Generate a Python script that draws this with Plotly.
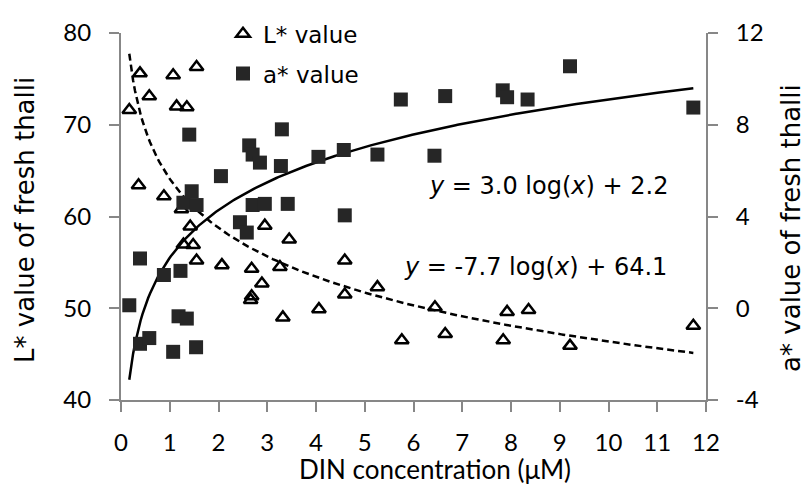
import numpy as np
import plotly.graph_objects as go

# DIN concentration (µM) and L* values (open triangles, left axis)
l_x = [0.17, 0.36, 0.39, 0.58, 0.88, 1.07, 1.14, 1.24, 1.28, 1.35, 1.42, 1.48, 1.55, 1.55,
       2.07, 2.66, 2.68, 2.68, 2.89, 2.95, 3.26, 3.32, 3.45, 4.06, 4.59, 4.59, 5.26, 5.76,
       6.44, 6.65, 7.84, 7.92, 8.36, 9.21, 11.74]
l_val = [71.6, 63.4, 75.6, 73.1, 62.2, 75.4, 72.0, 60.8, 56.95, 71.9, 58.9, 56.9, 76.3, 55.2,
         54.7, 50.9, 54.3, 51.3, 52.7, 59.0, 54.5, 49.0, 57.5, 49.9, 55.2, 51.5, 52.3, 46.5,
         50.1, 47.2, 46.5, 49.6, 49.8, 45.9, 48.1]

# DIN concentration (µM) and a* values (filled squares, right axis)
a_x = [0.17, 0.39, 0.39, 0.58, 0.88, 1.07, 1.18, 1.22, 1.28, 1.35, 1.40, 1.45, 1.54, 1.55,
       2.05, 2.44, 2.58, 2.63, 2.70, 2.70, 2.85, 2.95, 3.28, 3.30, 3.42, 4.05, 4.57, 4.59,
       5.26, 5.74, 6.43, 6.65, 7.83, 7.92, 8.34, 9.21, 11.74]
a_val = [0.13, 2.17, -1.55, -1.3, 1.45, -1.9, -0.35, 1.63, 4.6, -0.45, 7.57, 5.1, -1.7, 4.5,
         5.76, 3.75, 3.3, 7.1, 6.7, 4.5, 6.35, 4.55, 6.2, 7.8, 4.55, 6.6, 6.9, 4.05,
         6.7, 9.1, 6.65, 9.25, 9.5, 9.2, 9.1, 10.55, 8.75]

# Logarithmic trendline coefficients (slope, intercept) shown on the chart
l_fit = [-7.7, 64.1]
a_fit = [3.0, 2.2]

x_ticks = list(range(0, 13))
l_ticks = [40, 50, 60, 70, 80]
a_ticks = [-4, 0, 4, 8, 12]
a_tick_labels = ["-4", "0", "4", "8", "12"]

AXIS = "#878787"
NARROW = "Lato, Carlito, sans-serif"
WIDE = "DejaVu Sans, Verdana, sans-serif"
TICKFONT = dict(family=NARROW, size=24, color="#000000")

W, H = 806, 488
L, R, T, B = 121, 100, 29, 88
pw, ph = W - L - R, H - T - B


def px_x(p):
    return (p - L) / pw


def px_y(p):
    return 1 - (p - T) / ph


fx = np.linspace(min(l_x), max(l_x), 300)

fig = go.Figure()
fig.add_trace(go.Scatter(x=fx, y=l_fit[0] * np.log(fx) + l_fit[1], mode="lines",
                         line=dict(color="black", width=2.5, dash="7px,4px"),
                         showlegend=False, hoverinfo="skip"))
fig.add_trace(go.Scatter(x=fx, y=a_fit[0] * np.log(fx) + a_fit[1], mode="lines",
                         line=dict(color="black", width=2.5),
                         showlegend=False, hoverinfo="skip", yaxis="y2"))
fig.add_trace(go.Scatter(x=l_x, y=l_val, mode="markers", name="L* value",
                         legendgroup="L",
                         marker=dict(symbol="triangle-up-open", size=12,
                                     color="black", line=dict(color="black", width=2.5))))
fig.add_trace(go.Scatter(x=a_x, y=a_val, mode="markers", name="a* value",
                         legendgroup="a", yaxis="y2",
                         marker=dict(symbol="square", size=14, color="#262626",
                                     line=dict(width=0))))

ann_common = dict(xref="paper", yref="paper", showarrow=False,
                  xanchor="center", yanchor="middle")
fig.add_annotation(x=px_x(548), y=px_y(184), text="<i>y</i> = 3.0 log(<i>x</i>) + 2.2",
                   font=dict(family=WIDE, size=24, color="black"), **ann_common)
fig.add_annotation(x=px_x(535), y=px_y(266), text="<i>y</i> = -7.7 log(<i>x</i>) + 64.1",
                   font=dict(family=WIDE, size=24, color="black"), **ann_common)
# axis titles
fig.add_annotation(x=px_x(435), y=px_y(470), text="DIN concentration (μM)",
                   font=dict(family=NARROW, size=26, color="black"), **ann_common)
fig.add_annotation(x=px_x(25), y=px_y(218), text="L* value of fresh thalli", textangle=-90,
                   font=dict(family=WIDE, size=26, color="black"), **ann_common)
fig.add_annotation(x=px_x(791), y=px_y(226), text="a* value of fresh thalli", textangle=-90,
                   font=dict(family=WIDE, size=26, color="black"), **ann_common)

axis_common = dict(showgrid=False, zeroline=False, showline=True, linecolor=AXIS,
                   linewidth=2, ticks="outside", ticklen=10, tickwidth=2, tickcolor=AXIS,
                   tickfont=TICKFONT, automargin=False)

fig.update_layout(
    width=W, height=H,
    margin=dict(l=L, r=R, t=T, b=B),
    plot_bgcolor="white", paper_bgcolor="white",
    showlegend=True,
    legend=dict(x=px_x(223), y=px_y(8), xanchor="left", yanchor="top",
                bgcolor="rgba(0,0,0,0)", traceorder="grouped", tracegroupgap=7,
                font=dict(family=WIDE, size=23, color="black"),
                itemwidth=30),
    xaxis=dict(range=[0, 12], tickvals=x_ticks, ticklabelstandoff=10, **axis_common),
    yaxis=dict(range=[40, 80], tickvals=l_ticks, ticklabelstandoff=13, **axis_common),
    yaxis2=dict(range=[-4, 12], tickvals=a_ticks, ticktext=a_tick_labels,
                overlaying="y", side="right", ticklabelstandoff=13, **axis_common),
)

fig.write_html("out.html", config={"displayModeBar": False},
               post_script="document.body.style.margin='0px';")
